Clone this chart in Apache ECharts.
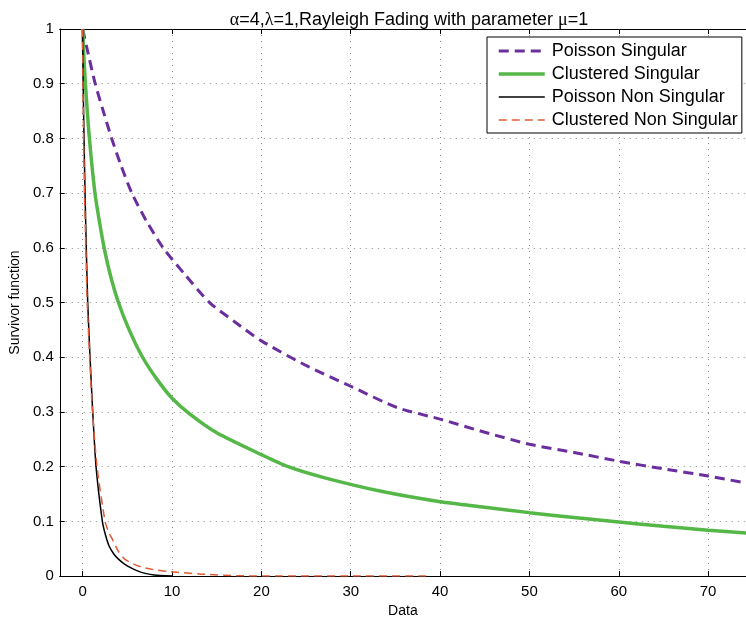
<!DOCTYPE html>
<html>
<head>
<meta charset="utf-8">
<script src="https://cdn.jsdelivr.net/npm/echarts@6/dist/echarts.min.js"></script>
<style>
  html, body { margin: 0; padding: 0; background: #fff; }
  #chart { width: 746px; height: 623px; }
</style>
</head>
<body>
<div id="chart"></div>
<script>
// ---- Data ----
const seriesNames = ['Poisson Singular', 'Clustered Singular', 'Poisson Non Singular', 'Clustered Non Singular'];

const poissonSingularX = [0, 0.4, 1.4, 2.3, 3.24, 4.3, 5.5, 7.1, 9.0, 11.5, 14.2, 17, 20, 25, 30, 35.2, 40, 45, 50, 55, 60, 65, 70, 74.3];
const poissonSingularY = [1, 0.97, 0.9, 0.85, 0.8, 0.75, 0.7, 0.65, 0.6, 0.55, 0.5, 0.465, 0.43, 0.385, 0.347, 0.308, 0.287, 0.263, 0.241, 0.226, 0.21, 0.196, 0.183, 0.17];

const clusteredSingularX = [0, 0.1, 0.3, 0.75, 1.37, 1.85, 2.4, 3.1, 4.0, 5.2, 6.7, 8.3, 10, 12, 15, 20, 23, 27, 33.4, 40, 45, 50, 55, 60, 65, 70, 74.3];
const clusteredSingularY = [1, 0.96, 0.9, 0.8, 0.7, 0.65, 0.6, 0.55, 0.5, 0.45, 0.4, 0.36, 0.325, 0.296, 0.262, 0.222, 0.2, 0.18, 0.155, 0.136, 0.126, 0.116, 0.107, 0.099, 0.091, 0.084, 0.0785];

const poissonNonSingularX = [0, 0.05, 0.15, 0.26, 0.4, 0.56, 0.82, 1.12, 1.49, 2.2, 2.55, 2.95, 3.5, 4.0, 4.6, 5.3, 6.2, 7.0, 8.0, 10];
const poissonNonSingularY = [1, 0.9, 0.8, 0.7, 0.6, 0.5, 0.4, 0.3, 0.2, 0.1, 0.075, 0.055, 0.04, 0.031, 0.023, 0.016, 0.009, 0.005, 0.002, 0];

const clusteredNonSingularX = [0, 0.03, 0.1, 0.2, 0.35, 0.5, 0.78, 1.1, 1.6, 2.5, 2.9, 3.3, 4.0, 4.7, 5.7, 6.7, 8.2, 9.9, 13.3, 17.4, 22, 30, 39];
const clusteredNonSingularY = [1, 0.9, 0.8, 0.7, 0.6, 0.5, 0.4, 0.3, 0.2, 0.1, 0.08, 0.068, 0.045, 0.031, 0.022, 0.016, 0.011, 0.008, 0.0036, 0.0005, 0.0003, 0.0002, 0];

const yTickValues = [0, 0.1, 0.2, 0.3, 0.4, 0.5, 0.6, 0.7, 0.8, 0.9, 1];

function pairs(xs, ys) { return xs.map((x, i) => [x, ys[i]]); }

const chart = echarts.init(document.getElementById('chart'), null, { renderer: 'canvas' });

const FONT = 'Liberation Sans, Arial, Helvetica, sans-serif';
const SERIF = 'Liberation Serif, Times New Roman, serif';
const xMin = -2.57, xMax = 74.24;

const option = {
  animation: false,
  backgroundColor: '#ffffff',
  textStyle: { fontFamily: FONT },
  title: {
    text: '{g|α}=4,{g|λ}=1,Rayleigh Fading with parameter {g|μ}=1',
    left: 404,
    top: 6,
    textAlign: 'center',
    textStyle: {
      fontFamily: FONT, fontSize: 18, fontWeight: 'normal', color: '#000',
      rich: { g: { fontFamily: SERIF, fontSize: 18, color: '#000' } }
    }
  },
  grid: { left: 58, top: 29, right: 0, bottom: 46, containLabel: false },
  legend: {
    orient: 'vertical',
    left: 487,
    top: 37,
    data: seriesNames,
    backgroundColor: '#ffffff',
    borderColor: '#000',
    borderWidth: 1,
    borderRadius: 0,
    padding: [5, 4, 4, 10],
    itemWidth: 46,
    itemHeight: 18,
    itemGap: 5,
    itemStyle: { opacity: 0 },
    lineStyle: { width: 'inherit' },
    textStyle: { fontFamily: FONT, fontSize: 18, color: '#000', padding: [0, 0, 0, 2] }
  },
  xAxis: [{
    type: 'value',
    min: xMin,
    max: xMax,
    splitNumber: 7,
    name: 'Data',
    nameLocation: 'middle',
    nameGap: 23,
    nameTextStyle: { fontFamily: FONT, fontSize: 14, color: '#000' },
    axisLine: { show: true, onZero: false, lineStyle: { color: '#000', width: 1 } },
    axisTick: { show: true, inside: true, length: 5, lineStyle: { color: '#000' } },
    axisLabel: {
      fontFamily: FONT, fontSize: 15, color: '#000', margin: 8,
      showMinLabel: false, showMaxLabel: false,
      formatter: v => (Math.abs(v % 10) < 1e-9 ? String(v) : '')
    },
    splitLine: { show: true, lineStyle: { color: '#8a8a8a', width: 1, type: [1, 5] } }
  }, {
    type: 'value',
    position: 'top',
    min: xMin,
    max: xMax,
    splitNumber: 7,
    axisLine: { show: true, onZero: false, lineStyle: { color: '#000', width: 1 } },
    axisTick: { show: true, inside: true, length: 5, lineStyle: { color: '#000' } },
    axisLabel: { show: false },
    splitLine: { show: false }
  }],
  yAxis: {
    type: 'value',
    min: 0,
    max: 1,
    interval: 0.1,
    name: 'Survivor function',
    nameLocation: 'middle',
    nameGap: 34,
    nameRotate: 90,
    nameTextStyle: { fontFamily: FONT, fontSize: 14, color: '#000' },
    axisLine: { show: true, onZero: false, lineStyle: { color: '#000', width: 1 } },
    axisTick: { show: true, inside: true, length: 5, lineStyle: { color: '#000' } },
    axisLabel: {
      fontFamily: FONT, fontSize: 15, color: '#000', margin: 6,
      formatter: v => {
        const t = yTickValues.find(k => Math.abs(k - v) < 1e-9);
        return t === undefined ? '' : String(t);
      }
    },
    splitLine: { show: true, lineStyle: { color: '#8a8a8a', width: 1, type: [1, 5] } }
  },
  series: [
    {
      name: seriesNames[0], type: 'line', xAxisIndex: 0,
      data: pairs(poissonSingularX, poissonSingularY),
      showSymbol: false, symbol: 'none', smooth: 0.25,
      lineStyle: { color: '#6A2E9E', width: 3, type: [10, 6] },
      itemStyle: { color: '#6A2E9E' }, z: 2
    },
    {
      name: seriesNames[1], type: 'line', xAxisIndex: 0,
      data: pairs(clusteredSingularX, clusteredSingularY),
      showSymbol: false, symbol: 'none', smooth: 0.25,
      lineStyle: { color: '#55B748', width: 3.5, type: 'solid' },
      itemStyle: { color: '#55B748' }, z: 3
    },
    {
      name: seriesNames[2], type: 'line', xAxisIndex: 0,
      data: pairs(poissonNonSingularX, poissonNonSingularY),
      showSymbol: false, symbol: 'none', smooth: 0.2,
      lineStyle: { color: '#000000', width: 1.5, type: 'solid' },
      itemStyle: { color: '#000000' }, z: 4
    },
    {
      name: seriesNames[3], type: 'line', xAxisIndex: 0,
      data: pairs(clusteredNonSingularX, clusteredNonSingularY),
      showSymbol: false, symbol: 'none', smooth: 0.2,
      lineStyle: { color: '#DF5B35', width: 1.5, type: [8, 5] },
      itemStyle: { color: '#DF5B35' }, z: 5
    }
  ]
};

chart.setOption(option);
</script>
</body>
</html>
